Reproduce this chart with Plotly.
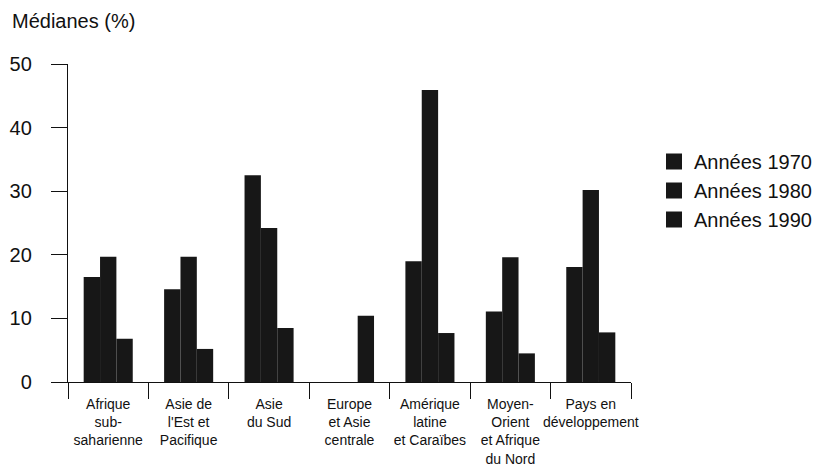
import plotly.graph_objects as go

categories = [
    "Afrique<br>sub-<br>saharienne",
    "Asie de<br>l'Est et<br>Pacifique",
    "Asie<br>du Sud",
    "Europe<br>et Asie<br>centrale",
    "Amérique<br>latine<br>et Caraïbes",
    "Moyen-<br>Orient<br>et Afrique<br>du Nord",
    "Pays en<br>développement",
]
series_names = ["Années 1970", "Années 1980", "Années 1990"]
values_1970 = [16.5, 14.6, 32.5, 0, 19.0, 11.1, 18.1]
values_1980 = [19.7, 19.7, 24.2, 0, 45.9, 19.6, 30.2]
values_1990 = [6.8, 5.2, 8.5, 10.4, 7.7, 4.5, 7.8]
y_ticks = [0, 10, 20, 30, 40, 50]

BAR = "#171717"
FONT = "Liberation Sans, Arial, Helvetica, sans-serif"
W, H = 814, 461  # page body adds an 8px margin

fig = go.Figure()
for name, vals in zip(series_names, [values_1970, values_1980, values_1990]):
    fig.add_trace(go.Bar(x=categories, y=vals, name=name, marker=dict(color=BAR, line=dict(width=0)),
                         showlegend=False))
# legend entries (larger square swatches)
for name in series_names:
    fig.add_trace(go.Scatter(x=[None], y=[None], mode="markers", name=name,
                             marker=dict(symbol="square", size=16, color=BAR)))

fig.update_layout(
    width=W, height=H,
    margin=dict(l=60, r=191, t=56, b=87, pad=0, autoexpand=False),
    paper_bgcolor="white", plot_bgcolor="white",
    barmode="group", bargap=0.39, bargroupgap=0,
    font=dict(family=FONT, color="#111111", size=20),
    title=dict(text="Médianes (%)", x=4/W, xanchor="left", xref="container",
               y=1 - 6/H, yanchor="top", yref="container",
               font=dict(size=20, family=FONT, color="#111111")),
    legend=dict(x=646/W, xref="container", xanchor="left", y=1 - 134/H, yref="container",
                yanchor="top", font=dict(size=20, family=FONT, color="#111111"),
                bgcolor="rgba(0,0,0,0)", itemwidth=30, tracegroupgap=0),
    showlegend=True,
)
fig.update_xaxes(
    type="category", range=[-0.5, 6.5], tickson="boundaries",
    ticks="outside", ticklen=16, tickwidth=1.3, tickcolor="#111111",
    showline=True, linecolor="#111111", linewidth=1.3,
    showgrid=False, zeroline=False, automargin=False, ticklabelstandoff=9,
    tickfont=dict(size=14, family=FONT, color="#111111"),
    tickangle=0,
)
fig.update_yaxes(
    range=[0, 50], tickvals=y_ticks, ticktext=[str(v) for v in y_ticks],
    ticks="outside", ticklen=16, tickwidth=1.3, tickcolor="#111111",
    showline=True, linecolor="#111111", linewidth=1.3,
    showgrid=False, zeroline=False, ticklabelstandoff=15, automargin=False,
    tickfont=dict(size=20, family=FONT, color="#111111"),
)

fig.write_html("out.html")
